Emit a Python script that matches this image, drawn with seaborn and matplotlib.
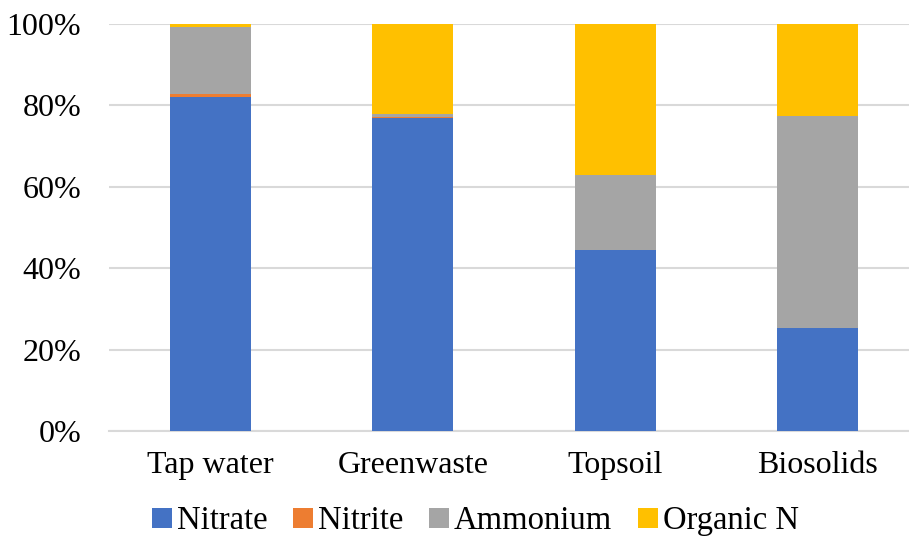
import matplotlib
matplotlib.use("Agg")
import matplotlib.pyplot as plt
import seaborn as sns
import numpy as np
import pandas as pd
from matplotlib.patches import Patch
from matplotlib.ticker import PercentFormatter

categories = ["Tap water", "Greenwaste", "Topsoil", "Biosolids"]
series_names = ["Nitrate", "Nitrite", "Ammonium", "Organic N"]
nitrate = [82.1, 77.0, 44.5, 25.4]
nitrite = [0.65, 0.1, 0.1, 0.0]
ammonium = [16.6, 0.8, 18.2, 51.9]
organic = [0.65, 22.1, 37.2, 22.7]
colors = ["#4472C4", "#ED7D31", "#A5A5A5", "#FFC000"]
yticks = [0, 20, 40, 60, 80, 100]

sns.set_style("white")
plt.rcParams['font.family'] = ['Liberation Serif', 'DejaVu Serif']
plt.rcParams['text.color'] = 'black'

fig = plt.figure(figsize=(9.09, 5.43), dpi=100)
ax = fig.add_axes([0.12, 0.206, 0.891, 0.750])

layers = [nitrate, nitrite, ammonium, organic]
cum = np.cumsum(np.array(layers), axis=0)
# draw from top layer down so that lower layers overdraw
for i in range(3, -1, -1):
    df = pd.DataFrame({"cat": categories, "val": cum[i]})
    sns.barplot(data=df, x="cat", y="val", color=colors[i], saturation=1,
                width=0.4, ax=ax, linewidth=0, zorder=3)

ax.set_ylim(0, 100)
ax.set_xlim(-0.5, 3.5)
ax.set_yticks(yticks)
ax.yaxis.set_major_formatter(PercentFormatter(decimals=0))
ax.set_xlabel("")
ax.set_ylabel("")
for s in ["top", "right", "left"]:
    ax.spines[s].set_visible(False)
ax.spines["bottom"].set_color("#D9D9D9")
ax.spines["bottom"].set_linewidth(1.5)
ax.grid(axis="y", color="#D9D9D9", linewidth=1.5, zorder=0)
ax.set_axisbelow(True)
ax.tick_params(axis="both", length=0, labelsize=23, colors="black")
ax.tick_params(axis="y", pad=20)
ax.tick_params(axis="x", pad=14)

handles = [Patch(facecolor=c, edgecolor="none") for c in colors]
leg = fig.legend(handles, series_names, loc="lower center", ncol=4, frameon=False,
                 fontsize=23.5, bbox_to_anchor=(0.523, -0.042), handlelength=0.6,
                 handleheight=0.6, handletextpad=0.15, columnspacing=0.8,
                 labelcolor="black")

fig.savefig("out.png", dpi=100)
